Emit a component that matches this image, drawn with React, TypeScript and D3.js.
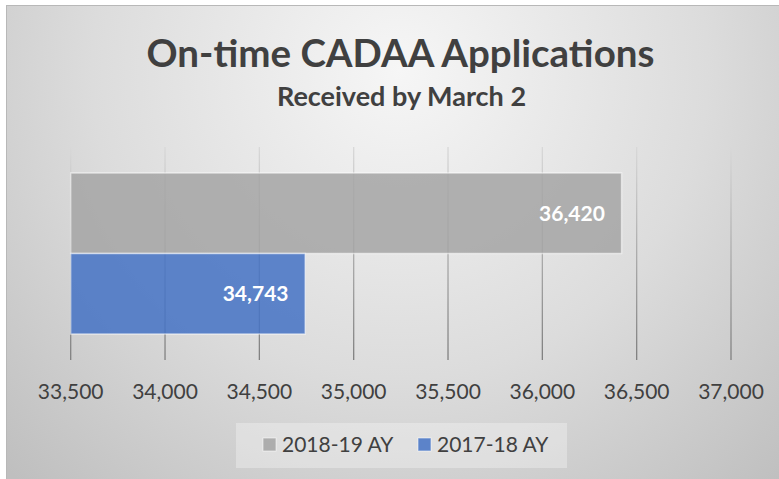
import React from "react";
import * as d3 from "d3";

const seriesNames = ["2018-19 AY", "2017-18 AY"];
const seriesValues = [36420, 34743];
const seriesColors = ["#a5a5a5", "#4472c4"];
const categories = ["Received by March 2"];
const tickValues = [33500, 34000, 34500, 35000, 35500, 36000, 36500, 37000];
const titleText = "On-time CADAA Applications";
const subtitleText = "Received by March 2";

const W = 779;
const H = 479;
const FONT = "Lato, 'Open Sans', sans-serif";

export default function App() {
  const plot = { left: 70.7, right: 731, top: 147, bottom: 360 };
  const x = d3.scaleLinear().domain([33500, 37000]).range([plot.left, plot.right]);
  const y0 = d3
    .scaleBand<string>()
    .domain(categories)
    .range([plot.top, plot.bottom])
    .paddingInner(0)
    .paddingOuter(0.1615);
  const y1 = d3
    .scaleBand<string>()
    .domain(seriesNames)
    .range([0, y0.bandwidth()])
    .padding(0);
  const fmt = d3.format(",");

  return (
    <svg
      width={W}
      height={H}
      style={{ position: "absolute", left: 0, top: 0, display: "block" }}
      fontFamily={FONT}
    >
      <defs>
        <radialGradient id="bg" gradientUnits="userSpaceOnUse" cx={400} cy={70} r={560}>
          <stop offset="0" stopColor="#f6f6f6" />
          <stop offset="0.55" stopColor="#dcdcdc" />
          <stop offset="1" stopColor="#bfbfbf" />
        </radialGradient>
        <linearGradient id="grid" gradientUnits="userSpaceOnUse" x1={0} y1={plot.top} x2={0} y2={plot.bottom}>
          <stop offset="0" stopColor="#d8d8d8" />
          <stop offset="1" stopColor="#7f7f7f" />
        </linearGradient>
      </defs>
      <rect x={0} y={0} width={W} height={H} fill="#ffffff" />
      <rect x={6.5} y={5.5} width={W + 10} height={H + 10} fill="url(#bg)" stroke="#b8b8b8" strokeWidth={1} />

      {/* Title */}
      <text x={400.5} y={66.7} textAnchor="middle" fontSize={38.5} fontWeight={700} fill="#404040">
        {titleText}
      </text>
      <text x={401.5} y={106} textAnchor="middle" fontSize={27} fontWeight={700} fill="#404040">
        {subtitleText}
      </text>

      {/* Gridlines */}
      {tickValues.map((t) => (
        <line
          key={"g" + t}
          x1={x(t)}
          x2={x(t)}
          y1={plot.top}
          y2={plot.bottom}
          stroke="url(#grid)"
          strokeWidth={1.3}
        />
      ))}

      {/* Bars */}
      {categories.map((c) => (
        <g key={c} transform={`translate(0,${y0(c)})`}>
          {seriesNames.map((s, i) => (
            <g key={s}>
              <rect
                x={x(33500)}
                y={y1(s)}
                width={x(seriesValues[i]) - x(33500)}
                height={y1.bandwidth()}
                fill={seriesColors[i]}
                fillOpacity={0.85}
                stroke="#ffffff"
                strokeOpacity={0.55}
                strokeWidth={1.5}
              />
              <text
                x={x(seriesValues[i]) - 16.7}
                y={(y1(s) ?? 0) + y1.bandwidth() / 2}
                dy="0.36em"
                textAnchor="end"
                fontSize={21}
                fontWeight={700}
                fill="#ffffff"
              >
                {fmt(seriesValues[i])}
              </text>
            </g>
          ))}
        </g>
      ))}

      {/* Tick labels */}
      {tickValues.map((t) => (
        <text key={"t" + t} x={x(t)} y={399.3} textAnchor="middle" fontSize={21} fill="#404040">
          {fmt(t)}
        </text>
      ))}

      {/* Legend */}
      <rect x={236} y={423} width={331} height={45} fill="#ffffff" fillOpacity={0.3} />
      {seriesNames.map((s, i) => (
        <g key={"l" + s} transform={`translate(${263 + i * 155},0)`}>
          <rect x={0} y={438} width={13} height={13} fill={seriesColors[i]} fillOpacity={0.85} stroke="#ffffff" strokeOpacity={0.55} />
          <text x={19} y={451.7} fontSize={21} fill="#404040">
            {s}
          </text>
        </g>
      ))}
    </svg>
  );
}
